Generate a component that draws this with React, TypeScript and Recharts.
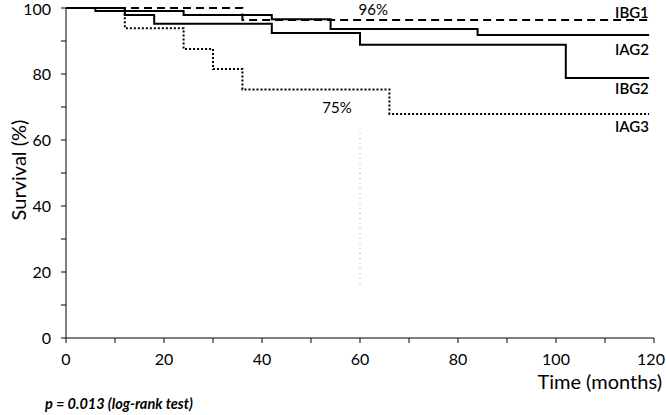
import React from 'react';
import {
  LineChart, Line, XAxis, YAxis, ReferenceLine, ReferenceDot,
} from 'recharts';

// Kaplan-Meier step points (months, survival %)
const ibg1Times = [0, 36, 119];
const ibg1Surv = [100, 96.4, 96.4];

const iag2Times = [0, 6, 24, 42, 54, 84, 119];
const iag2Surv = [100, 99.1, 97.9, 96.6, 93.6, 91.8, 91.8];

const ibg2Times = [0, 12, 18, 42, 60, 102, 119];
const ibg2Surv = [100, 97.9, 95.2, 92.4, 88.9, 78.8, 78.8];

const iag3Times = [0, 12, 24, 30, 36, 66, 119];
const iag3Surv = [100, 93.9, 87.6, 81.5, 75.3, 67.9, 67.9];

const xTicks = [0, 10, 20, 30, 40, 50, 60, 70, 80, 90, 100, 110, 120];
const yTicks = [0, 10, 20, 30, 40, 50, 60, 70, 80, 90, 100];

// text annotations placed in data space
const noteText = ['IBG1', 'IAG2', 'IBG2', 'IAG3', '96%', '75%'];
const noteX = [115.5, 115.5, 115.5, 115.5, 62.7, 55.3];
const noteY = [98.5, 87.3, 75.5, 63.9, 99.6, 69.7];

// landmark at 60 months
const markX = 60;
const markFrom = 16.4;
const markTo = 62.1;

const toRows = (t: number[], s: number[]) => t.map((time, i) => ({ time, surv: s[i] }));

const FONT = 'Lato, "Open Sans", sans-serif';

// x tick: labels every 20 months, last one nudged so it stays inside the frame
function XTick(props: any) {
  const { x, y, payload } = props;
  const v = payload.value as number;
  if (v % 20 !== 0) return null;
  return (
    <text x={v === 120 ? x - 3 : x} y={y} dy="0.71em" textAnchor="middle" fill="#000" fontSize={16} fontFamily={FONT}>
      {v}
    </text>
  );
}

export default function App() {
  const series = [
    { key: 'IBG1', data: toRows(ibg1Times, ibg1Surv), dash: '8 5' },
    { key: 'IAG3', data: toRows(iag3Times, iag3Surv), dash: '2 2' },
    { key: 'IBG2', data: toRows(ibg2Times, ibg2Surv), dash: undefined },
    { key: 'IAG2', data: toRows(iag2Times, iag2Surv), dash: undefined },
  ];

  return (
    <div style={{ position: 'absolute', left: 0, top: 0, width: 666, height: 415, background: '#fff', fontFamily: FONT }}>
      <LineChart width={666} height={415} margin={{ top: 8, right: 12, left: 0, bottom: 47 }}>
        <XAxis
          type="number"
          dataKey="time"
          domain={[0, 120]}
          ticks={xTicks}
          tick={<XTick />}
          tickSize={5}
          tickMargin={11}
          height={30}
          stroke="#000"
          allowDuplicatedCategory={false}
        />
        <YAxis
          type="number"
          dataKey="surv"
          domain={[0, 100]}
          ticks={yTicks}
          tickFormatter={(v: number) => (v % 20 === 0 ? String(v) : '')}
          tickSize={5}
          tickMargin={10}
          width={66}
          stroke="#000"
          tick={{ fill: '#000', fontSize: 16, fontFamily: FONT }}
        />
        <ReferenceLine
          segment={[{ x: markX, y: markFrom }, { x: markX, y: markTo }]}
          stroke="#999"
          strokeWidth={1}
          strokeDasharray="1 4"
        />
        {series.map((s) => (
          <Line
            key={s.key}
            data={s.data}
            dataKey="surv"
            type="stepAfter"
            stroke="#000"
            strokeWidth={2}
            strokeDasharray={s.dash}
            dot={false}
            isAnimationActive={false}
          />
        ))}
        {noteText.map((t, i) => (
          <ReferenceDot
            key={t}
            x={noteX[i]}
            y={noteY[i]}
            r={0}
            fill="none"
            stroke="none"
            label={{ value: t, position: 'center', fill: '#000', fontSize: 15, fontFamily: FONT, fontWeight: i < 4 ? 600 : 400 }}
          />
        ))}
      </LineChart>
      <div style={{ position: 'absolute', left: 18 - 100, top: 170 - 13, width: 200, height: 26, lineHeight: '26px', textAlign: 'center', transform: 'rotate(-90deg)', fontSize: 20, whiteSpace: 'nowrap', color: '#000' }}>
        Survival (%)
      </div>
      <div style={{ position: 'absolute', right: 4, top: 369, fontSize: 20, whiteSpace: 'nowrap', color: '#000' }}>
        Time (months)
      </div>
      <div style={{ position: 'absolute', left: 45, top: 395, fontSize: 14.5, fontStyle: 'italic', fontWeight: 700, whiteSpace: 'nowrap', color: '#000' }}>
        p = 0.013 (log-rank test)
      </div>
    </div>
  );
}
